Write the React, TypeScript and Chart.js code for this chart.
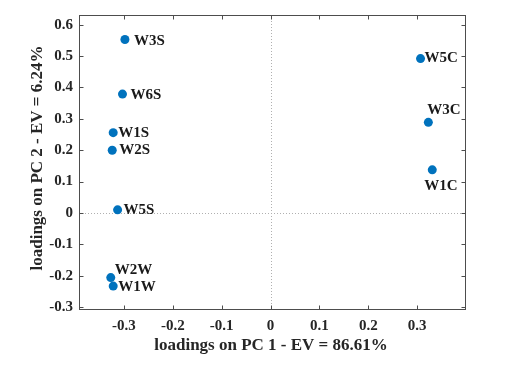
import React, { useEffect, useRef } from "react";
import { Chart, registerables } from "chart.js";

Chart.register(...registerables);

const sampleNames = ["W3S", "W6S", "W1S", "W2S", "W5S", "W2W", "W1W", "W5C", "W3C", "W1C"];
const pc1Loadings = [-0.298, -0.303, -0.322, -0.324, -0.313, -0.327, -0.322, 0.307, 0.323, 0.331];
const pc2Loadings = [0.553, 0.379, 0.256, 0.2, 0.01, -0.206, -0.233, 0.492, 0.289, 0.1375];
const xTitle = "loadings on PC 1 - EV = 86.61%";
const yTitle = "loadings on PC 2 - EV = 6.24%";

// label placement relative to marker (pixels)
const labelOffsets: [number, number][] = [
  [9, 2], [8, 1], [5, 0], [7, 0], [6, 0], [4, -7], [5, 1], [4, 0], [-1, -12], [-8, 16],
];

const FONT = "'Liberation Serif', 'Times New Roman', serif";
const AXIS_COLOR = "#4d4d4d";

const framePlugin = {
  id: "frame",
  beforeDatasetsDraw(chart: any) {
    const { ctx, chartArea: a, scales } = chart;
    const xs = scales.x, ys = scales.y;
    ctx.save();
    // dotted zero lines
    ctx.strokeStyle = "#b0b0b0";
    ctx.lineWidth = 1;
    ctx.setLineDash([1, 2]);
    const x0 = Math.round(xs.getPixelForValue(0)) + 0.5;
    const y0 = Math.round(ys.getPixelForValue(0)) + 0.5;
    ctx.beginPath();
    ctx.moveTo(x0, a.top);
    ctx.lineTo(x0, a.bottom);
    ctx.moveTo(a.left, y0);
    ctx.lineTo(a.right, y0);
    ctx.stroke();
    ctx.setLineDash([]);
    // box
    ctx.strokeStyle = AXIS_COLOR;
    ctx.lineWidth = 1;
    const L = Math.round(a.left) + 0.5, R = Math.round(a.right) + 0.5;
    const T = Math.round(a.top) + 0.5, B = Math.round(a.bottom) + 0.5;
    ctx.strokeRect(L, T, R - L, B - T);
    // inward ticks
    const tl = 4;
    ctx.beginPath();
    xs.ticks.forEach((t: any) => {
      const px = Math.round(xs.getPixelForValue(t.value)) + 0.5;
      ctx.moveTo(px, B);
      ctx.lineTo(px, B - tl);
      ctx.moveTo(px, T);
      ctx.lineTo(px, T + tl);
    });
    ys.ticks.forEach((t: any) => {
      const py = Math.round(ys.getPixelForValue(t.value)) + 0.5;
      ctx.moveTo(L, py);
      ctx.lineTo(L + tl, py);
      ctx.moveTo(R, py);
      ctx.lineTo(R - tl, py);
    });
    ctx.stroke();
    // axis titles
    ctx.fillStyle = "#262626";
    ctx.font = `bold 17px ${FONT}`;
    ctx.textAlign = "center";
    ctx.textBaseline = "middle";
    ctx.fillText(xTitle, 271, 346);
    ctx.save();
    ctx.translate(38, 158);
    ctx.rotate(-Math.PI / 2);
    ctx.fillText(yTitle, 0, 0);
    ctx.restore();
    ctx.restore();
  },
  afterDatasetsDraw(chart: any) {
    const { ctx } = chart;
    const meta = chart.getDatasetMeta(0);
    ctx.save();
    ctx.fillStyle = "#1a1a1a";
    ctx.font = `bold 15px ${FONT}`;
    ctx.textAlign = "left";
    ctx.textBaseline = "middle";
    meta.data.forEach((pt: any, i: number) => {
      const [dx, dy] = labelOffsets[i];
      ctx.fillText(sampleNames[i], pt.x + dx, pt.y + dy);
    });
    ctx.restore();
  },
};

const fmt = (v: any) => {
  const r = Math.round(Number(v) * 10) / 10;
  return r === 0 ? "0" : String(r);
};

export default function App() {
  const ref = useRef<HTMLCanvasElement>(null);
  useEffect(() => {
    if (!ref.current) return;
    const chart = new Chart(ref.current, {
      type: "scatter",
      data: {
        datasets: [
          {
            data: pc1Loadings.map((x, i) => ({ x, y: pc2Loadings[i] })),
            backgroundColor: "#0072BD",
            borderColor: "#0072BD",
            pointRadius: 4.5,
            pointHoverRadius: 4.5,
            borderWidth: 0,
          },
        ],
      },
      options: {
        responsive: false,
        animation: false,
        devicePixelRatio: 1,
        layout: { padding: { top: 8, right: 59, left: 0, bottom: 0 } },
        plugins: { legend: { display: false }, tooltip: { enabled: false } },
        scales: {
          x: {
            type: "linear",
            min: -0.392,
            max: 0.398,
            grid: { display: false, drawTicks: false },
            border: { display: false },
            ticks: {
              stepSize: 0.1,
              includeBounds: false,
              padding: 8,
              color: "#262626",
              font: { family: FONT, size: 15, weight: "bold" },
              callback: fmt,
              maxRotation: 0,
            },
            afterFit: (s: any) => { s.height = 66; },
          },
          y: {
            type: "linear",
            min: -0.306,
            max: 0.631,
            grid: { display: false, drawTicks: false },
            border: { display: false },
            ticks: {
              stepSize: 0.1,
              includeBounds: false,
              padding: 6,
              color: "#262626",
              font: { family: FONT, size: 15, weight: "bold" },
              callback: fmt,
            },
            afterFit: (s: any) => { s.width = 79; },
          },
        },
      },
      plugins: [framePlugin],
    } as any);
    return () => chart.destroy();
  }, []);
  return (
    <div style={{ position: "absolute", left: 0, top: 0, width: 524, height: 375, background: "#fff" }}>
      <canvas ref={ref} width={524} height={375} />
    </div>
  );
}
